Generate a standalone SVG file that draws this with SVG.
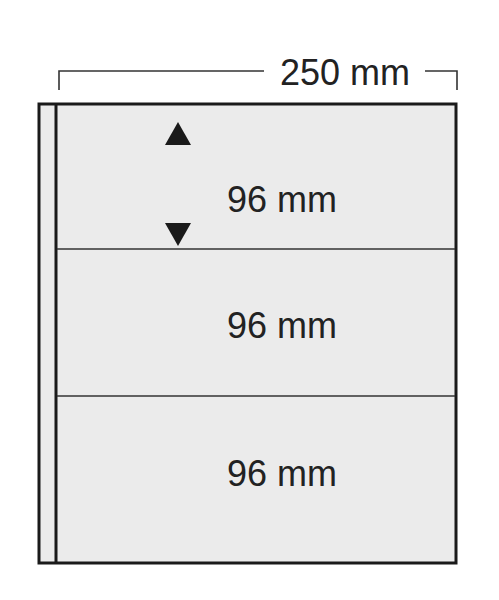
<svg xmlns="http://www.w3.org/2000/svg" width="499" height="600" viewBox="0 0 499 600">
<style>
.lbl{font-family:"Liberation Sans",Arial,sans-serif;font-size:36px;fill:#222;text-anchor:middle}
.frame{fill:#ebebeb;stroke:#1a1a1a;stroke-width:3}
.div{stroke:#333;stroke-width:1.6}
.dim{fill:none;stroke:#333;stroke-width:1.6}
</style>
<rect width="499" height="600" fill="#fff"/>
<g id="dimension">
<path class="dim" d="M59 90 V71 H264"/>
<path class="dim" d="M425 71 H457 V90"/>
<text class="lbl" x="345" y="85">250 mm</text>
</g>
<g id="page">
<rect class="frame" x="39" y="104" width="417" height="459"/>
<line x1="56" y1="104" x2="56" y2="563" stroke="#1a1a1a" stroke-width="3"/>
</g>
<g id="connectors">
<line class="div" x1="57" y1="249" x2="455" y2="249"/>
<line class="div" x1="57" y1="396" x2="455" y2="396"/>
</g>
<g id="strip1">
<polygon points="178,122 165,145 191,145" fill="#1a1a1a"/>
<polygon points="165,223 191,223 178,246" fill="#1a1a1a"/>
<text class="lbl" x="282" y="212">96 mm</text>
</g>
<g id="strip2">
<text class="lbl" x="282" y="338">96 mm</text>
</g>
<g id="strip3">
<text class="lbl" x="282" y="486">96 mm</text>
</g>
</svg>
